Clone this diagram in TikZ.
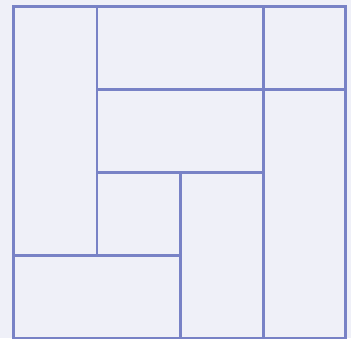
\documentclass[tikz,border=0pt]{standalone}
\begin{document}
\begin{tikzpicture}[x=1pt,y=-1pt,
  cell/.style={draw=linec,line width=2.4pt,fill=bgc},
  frame/.style={draw=linec,line width=3pt}]
\definecolor{bgc}{HTML}{EFF0F8}
\definecolor{linec}{HTML}{7882C6}
\fill[bgc] (0,0) rectangle (351,338);
\useasboundingbox (0,0) rectangle (351,338);
\draw[cell] (13.5,6.5) rectangle (97,255.5);
\draw[cell] (97,6.5) rectangle (263.5,89.5);
\draw[cell] (263.5,6.5) rectangle (345.5,89.5);
\draw[cell] (97,89.5) rectangle (263.5,172.5);
\draw[cell] (263.5,89.5) rectangle (345.5,338.5);
\draw[cell] (97,172.5) rectangle (180.5,255.5);
\draw[cell] (180.5,172.5) rectangle (263.5,338.5);
\draw[cell] (13.5,255.5) rectangle (180.5,338.5);
\draw[frame] (13.5,6.5) rectangle (345.5,338.5);
\end{tikzpicture}
\end{document}
